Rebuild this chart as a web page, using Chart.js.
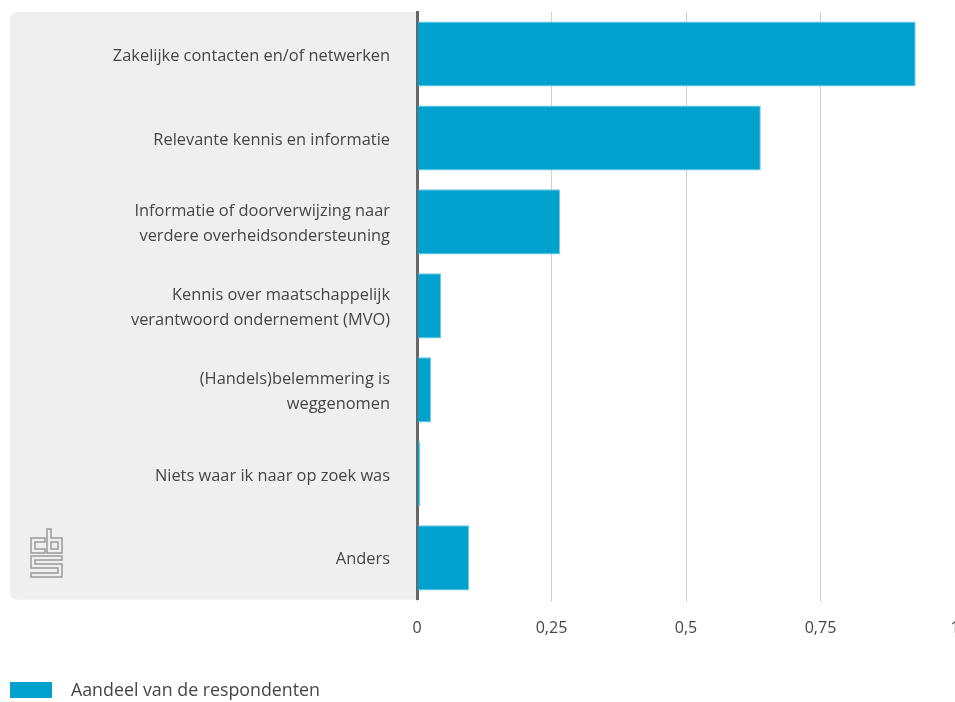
<!DOCTYPE html>
<html lang="nl">
<head>
<meta charset="utf-8">
<script src="https://cdn.jsdelivr.net/npm/chart.js@4/dist/chart.umd.min.js"></script>
<style>
  html, body { margin: 0; padding: 0; background: #ffffff; }
  #wrap { position: relative; width: 955px; height: 702px; }
</style>
</head>
<body>
<div id="wrap"><canvas id="chart" width="955" height="702"></canvas></div>
<script>
// Categories (multi-line labels as arrays)
const categories = [
  'Zakelijke contacten en/of netwerken',
  'Relevante kennis en informatie',
  ['Informatie of doorverwijzing naar', 'verdere overheidsondersteuning'],
  ['Kennis over maatschappelijk', 'verantwoord ondernement (MVO)'],
  ['(Handels)belemmering is', 'weggenomen'],
  'Niets waar ik naar op zoek was',
  'Anders'
];
const seriesName = 'Aandeel van de respondenten';
const shares = [0.927, 0.639, 0.266, 0.045, 0.026, 0.006, 0.097];
const xTicks = [0, 0.25, 0.5, 0.75, 1];

const BLUE = '#00a1cd';
const FONT = '"Open Sans", sans-serif';
const TEXT = '#454545';

// Grey label panel plus logo, drawn behind the bars
const panelPlugin = {
  id: 'labelPanel',
  beforeDraw(chart) {
    const { ctx, chartArea } = chart;
    const x0 = 10, y0 = chartArea.top, x1 = chartArea.left, y1 = chartArea.bottom;
    const r = 8;
    ctx.save();
    ctx.fillStyle = '#efefef';
    ctx.beginPath();
    ctx.moveTo(x1, y0);
    ctx.lineTo(x0 + r, y0);
    ctx.quadraticCurveTo(x0, y0, x0, y0 + r);
    ctx.lineTo(x0, y1 - r);
    ctx.quadraticCurveTo(x0, y1, x0 + r, y1);
    ctx.lineTo(x1, y1);
    ctx.closePath();
    ctx.fill();

    // cbs mark
    const lx = 31, ly = 529;
    ctx.strokeStyle = '#9a9a9a';
    ctx.lineWidth = 1.5;
    const poly = (pts) => {
      ctx.beginPath();
      ctx.moveTo(lx + pts[0][0], ly + pts[0][1]);
      for (let i = 1; i < pts.length; i++) ctx.lineTo(lx + pts[i][0], ly + pts[i][1]);
      ctx.closePath();
      ctx.stroke();
    };
    // c
    poly([[14, 9], [0, 9], [0, 24], [14, 24], [14, 20], [4, 20], [4, 13], [14, 13]]);
    // b
    poly([[16, 0], [16, 24], [31, 24], [31, 9], [20, 9], [20, 0]]);
    poly([[20, 13], [27, 13], [27, 20], [20, 20]]);
    // S
    poly([[0, 27], [31, 27], [31, 31], [4, 31], [4, 35], [31, 35], [31, 48], [0, 48], [0, 44], [27, 44], [27, 39], [0, 39]]);
    ctx.restore();
  }
};

// Series key below the axis
const keyPlugin = {
  id: 'seriesKey',
  afterDraw(chart) {
    const { ctx } = chart;
    const ds = chart.data.datasets[0];
    ctx.save();
    ctx.fillStyle = ds.backgroundColor;
    ctx.fillRect(10, 682, 42, 16);
    ctx.fillStyle = TEXT;
    ctx.font = '400 17.8px ' + FONT;
    ctx.textBaseline = 'middle';
    ctx.textAlign = 'left';
    ctx.fillText(ds.label, 71, 691);
    ctx.restore();
  }
};

new Chart(document.getElementById('chart'), {
  type: 'bar',
  data: {
    labels: categories,
    datasets: [{
      label: seriesName,
      data: shares,
      backgroundColor: BLUE,
      borderColor: '#6fcbe6',
      borderWidth: { top: 1, bottom: 1, right: 1, left: 0 },
      borderSkipped: 'left',
      categoryPercentage: 0.8,
      barPercentage: 0.97
    }]
  },
  options: {
    indexAxis: 'y',
    responsive: false,
    animation: false,
    layout: { padding: { top: 12, left: 0, right: 0, bottom: 47 } },
    plugins: {
      legend: { display: false },
      tooltip: { enabled: false }
    },
    scales: {
      x: {
        min: 0,
        max: 1,
        afterBuildTicks(scale) { scale.ticks = xTicks.map(v => ({ value: v })); },
        afterFit(scale) { scale.paddingRight = 0; scale.paddingLeft = 0; },
        grid: { color: '#d0d0d0', lineWidth: 1, tickLength: 2, drawTicks: true },
        border: { display: false },
        ticks: {
          color: TEXT,
          padding: 17,
          font: { family: FONT, size: 16, weight: '400' },
          callback: (v) => String(v).replace('.', ',')
        }
      },
      y: {
        afterFit(scale) { scale.width = 417; scale.paddingTop = 0; scale.paddingBottom = 0; },
        grid: { display: false, drawTicks: false },
        border: { display: true, color: '#666', width: 3 },
        ticks: {
          color: TEXT,
          padding: 27,
          labelOffset: 2,
          font: { family: FONT, size: 16.4, weight: '400', lineHeight: 1.52 }
        }
      }
    }
  },
  plugins: [panelPlugin, keyPlugin]
});
</script>
</body>
</html>
